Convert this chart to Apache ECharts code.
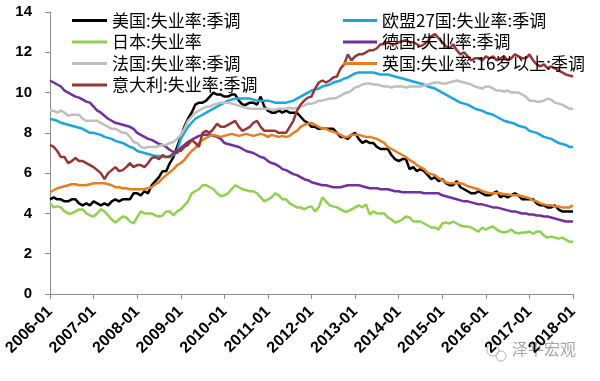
<!DOCTYPE html>
<html><head><meta charset="utf-8">
<script src="https://cdn.jsdelivr.net/npm/echarts@6/dist/echarts.min.js"></script>
<style>html,body{margin:0;padding:0;background:#fff}#c{width:600px;height:381px}</style>
</head><body><div id="c"></div>
<script>
// Categories: monthly 2006-01 .. 2018-01
const categories = [];
for (let y = 2006; y <= 2017; y++) for (let m = 1; m <= 12; m++) categories.push(y + '-' + (m < 10 ? '0' + m : m));
categories.push('2018-01');

const yTicks = [0, 2, 4, 6, 8, 10, 12, 14];

const nameUS = '美国:失业率:季调';
const nameEU = '欧盟27国:失业率:季调';
const nameJP = '日本:失业率';
const nameDE = '德国:失业率:季调';
const nameFR = '法国:失业率:季调';
const nameUK = '英国:失业率:16岁以上:季调';
const nameIT = '意大利:失业率:季调';

const usData = [
4.7,4.8,4.7,4.7,4.6,4.6,4.7,4.7,4.5,4.4,4.5,4.4,
4.6,4.5,4.4,4.5,4.4,4.6,4.7,4.6,4.7,4.7,4.7,5.0,
5.0,4.9,5.1,5.0,5.4,5.6,5.8,6.1,6.1,6.5,6.8,7.3,
7.8,8.3,8.7,9.0,9.4,9.5,9.5,9.6,9.8,10.0,9.9,9.9,
9.8,9.8,9.9,9.9,9.6,9.4,9.4,9.5,9.5,9.4,9.8,9.3,
9.1,9.0,9.0,9.1,9.0,9.1,9.0,9.0,9.0,8.8,8.6,8.5,
8.3,8.3,8.2,8.2,8.2,8.2,8.2,8.0,7.8,7.8,7.7,7.9,
8.0,7.7,7.5,7.6,7.5,7.5,7.3,7.2,7.2,7.2,6.9,6.7,
6.6,6.7,6.7,6.2,6.3,6.1,6.2,6.1,5.9,5.7,5.8,5.6,
5.7,5.5,5.4,5.4,5.6,5.3,5.2,5.1,5.0,5.0,5.1,5.0,
4.9,4.9,5.0,5.1,4.8,4.9,4.8,4.9,5.0,4.9,4.7,4.7,
4.7,4.7,4.5,4.4,4.4,4.3,4.3,4.4,4.2,4.1,4.1,4.1,
4.1];

const euData = [
8.7,8.65,8.6,8.5,8.45,8.4,8.35,8.3,8.25,8.2,8.1,8.0,
8.0,7.95,7.9,7.8,7.75,7.7,7.6,7.55,7.5,7.4,7.3,7.25,
7.1,7.05,7.0,6.95,6.9,6.85,6.85,6.8,6.8,6.85,6.9,7.1,
7.7,8.0,8.3,8.5,8.7,8.8,8.9,9.0,9.1,9.2,9.3,9.4,
9.5,9.6,9.65,9.7,9.7,9.7,9.7,9.7,9.65,9.6,9.6,9.6,
9.6,9.55,9.5,9.5,9.5,9.5,9.55,9.6,9.7,9.8,9.9,10.0,
10.1,10.15,10.2,10.3,10.35,10.4,10.5,10.55,10.6,10.7,10.75,10.85,
10.95,11.0,11.0,11.0,11.0,11.0,10.95,10.9,10.9,10.9,10.85,10.8,
10.75,10.7,10.65,10.6,10.55,10.5,10.45,10.4,10.3,10.25,10.2,10.1,
10.0,9.9,9.8,9.7,9.6,9.5,9.45,9.4,9.3,9.2,9.15,9.1,
9.0,8.95,8.9,8.8,8.7,8.6,8.55,8.5,8.45,8.35,8.3,8.25,
8.1,8.05,8.0,7.9,7.8,7.75,7.7,7.6,7.5,7.45,7.4,7.3,
7.3];

const jpData = [
4.5,4.3,4.35,4.3,4.1,4.0,4.0,4.1,4.2,4.2,4.0,3.9,
3.85,4.0,4.2,4.1,3.9,3.7,3.55,3.7,3.85,3.8,3.6,3.5,
3.8,4.1,4.0,4.0,4.0,3.9,3.85,3.9,4.1,4.1,3.9,4.1,
4.2,4.4,4.6,5.0,5.1,5.2,5.4,5.4,5.3,5.2,5.0,4.85,
4.9,5.0,5.2,5.4,5.3,5.2,5.15,5.1,5.1,5.0,4.8,4.6,
4.7,4.8,5.0,4.9,4.7,4.7,4.5,4.4,4.3,4.3,4.2,4.3,
4.35,4.1,4.3,4.8,4.6,4.4,4.35,4.3,4.2,4.1,4.1,4.2,
4.3,4.4,4.3,4.45,3.95,4.1,4.0,4.0,4.0,3.8,3.7,3.55,
3.6,3.7,3.85,3.8,3.6,3.6,3.6,3.5,3.4,3.3,3.3,3.2,
3.5,3.55,3.5,3.6,3.5,3.4,3.35,3.35,3.3,3.2,3.1,3.3,
3.2,3.3,3.35,3.2,3.1,3.05,3.1,3.2,3.05,3.0,3.05,3.05,
3.1,3.0,3.1,3.1,2.9,2.8,2.85,2.8,2.75,2.8,2.7,2.6,
2.6];

const deData = [
10.6,10.5,10.4,10.3,10.1,10.0,9.9,9.8,9.75,9.65,9.55,9.5,
9.3,9.1,9.0,8.85,8.7,8.6,8.5,8.45,8.4,8.35,8.3,8.2,
8.0,7.9,7.8,7.7,7.65,7.55,7.45,7.4,7.3,7.15,7.05,7.0,
7.25,7.4,7.55,7.65,7.75,7.85,7.9,7.9,7.9,7.85,7.8,7.7,
7.5,7.45,7.4,7.35,7.3,7.2,7.1,7.05,7.0,6.9,6.8,6.75,
6.6,6.5,6.45,6.35,6.2,6.15,6.05,5.95,5.9,5.8,5.7,5.65,
5.55,5.5,5.45,5.4,5.4,5.35,5.3,5.3,5.3,5.35,5.4,5.4,
5.4,5.4,5.35,5.3,5.25,5.25,5.25,5.2,5.2,5.2,5.15,5.1,
5.1,5.05,5.05,5.05,5.05,5.05,5.05,5.0,5.0,5.0,5.0,5.0,
4.9,4.85,4.8,4.75,4.7,4.65,4.6,4.6,4.55,4.5,4.45,4.45,
4.4,4.35,4.3,4.3,4.25,4.2,4.15,4.1,4.1,4.05,4.0,4.0,
3.95,3.95,3.9,3.9,3.85,3.85,3.8,3.75,3.7,3.65,3.6,3.6,
3.6];

const frData = [
9.1,9.1,9.0,9.1,9.0,8.85,8.9,8.9,8.9,8.7,8.6,8.6,
8.6,8.6,8.5,8.4,8.3,8.2,8.2,8.1,8.0,8.0,7.8,7.55,
7.5,7.3,7.25,7.3,7.3,7.3,7.35,7.4,7.4,7.5,7.55,7.7,
7.9,8.2,8.6,8.8,9.0,9.1,9.2,9.3,9.3,9.4,9.45,9.5,
9.5,9.5,9.45,9.4,9.35,9.3,9.25,9.2,9.2,9.2,9.2,9.2,
9.2,9.15,9.15,9.2,9.2,9.2,9.25,9.2,9.25,9.3,9.35,9.45,
9.45,9.5,9.6,9.6,9.65,9.7,9.7,9.75,9.85,9.95,10.0,10.1,
10.25,10.3,10.4,10.45,10.45,10.4,10.4,10.35,10.3,10.3,10.25,10.3,
10.3,10.3,10.25,10.3,10.3,10.3,10.3,10.35,10.4,10.45,10.5,10.5,
10.45,10.45,10.5,10.55,10.6,10.55,10.5,10.45,10.4,10.3,10.25,10.2,
10.3,10.3,10.2,10.1,10.1,10.05,10.1,10.0,10.0,10.0,9.9,9.8,
9.6,9.6,9.55,9.55,9.6,9.7,9.65,9.5,9.45,9.4,9.3,9.2,
9.2];

const ukData = [
5.05,5.15,5.25,5.3,5.35,5.4,5.45,5.45,5.4,5.4,5.4,5.45,
5.5,5.5,5.5,5.5,5.45,5.4,5.3,5.3,5.25,5.25,5.2,5.2,
5.2,5.2,5.2,5.25,5.3,5.45,5.55,5.75,5.9,6.05,6.2,6.4,
6.5,6.65,6.9,7.1,7.25,7.5,7.65,7.75,7.85,7.9,7.85,7.8,
7.85,7.9,7.95,7.9,7.85,7.9,7.95,7.9,7.85,7.9,7.95,7.9,
7.8,7.9,7.85,7.8,7.85,7.8,7.85,8.0,8.1,8.3,8.4,8.45,
8.5,8.4,8.3,8.2,8.2,8.1,8.05,8.0,7.9,7.8,7.8,7.9,
7.9,7.9,7.85,7.8,7.8,7.75,7.7,7.6,7.5,7.3,7.2,7.1,
7.0,6.9,6.8,6.65,6.55,6.4,6.3,6.2,6.0,5.95,5.9,5.75,
5.65,5.55,5.5,5.5,5.5,5.5,5.45,5.35,5.3,5.25,5.2,5.1,
5.05,5.0,5.0,5.0,5.0,4.95,4.95,4.9,4.9,4.9,4.85,4.8,
4.75,4.65,4.6,4.5,4.45,4.4,4.4,4.35,4.35,4.3,4.3,4.3,
4.4];

const itData = [
7.4,7.3,7.1,6.8,6.8,6.5,6.6,6.75,6.6,6.6,6.5,6.4,
6.3,6.15,6.0,5.7,6.0,6.15,6.3,6.1,6.15,6.3,6.5,6.3,
6.4,6.4,6.3,6.5,6.75,6.8,6.7,6.9,6.8,6.8,7.0,7.15,
7.1,7.3,7.4,7.65,7.5,7.3,8.0,8.1,8.0,8.2,8.45,8.3,
8.3,8.4,8.5,8.6,8.3,8.1,8.2,8.3,8.5,8.6,8.3,8.1,
8.1,8.1,8.1,8.0,8.0,8.0,8.3,8.6,9.1,9.4,9.6,9.75,
9.8,10.2,10.5,10.6,10.5,10.6,10.75,10.8,11.2,11.4,11.9,11.6,
11.8,11.9,11.9,12.0,12.1,12.1,12.2,12.4,12.4,12.5,12.4,12.4,
12.5,12.55,12.6,12.5,12.5,12.4,12.3,12.4,12.55,12.8,12.9,12.7,
12.5,12.3,12.2,12.4,12.1,11.9,12.0,11.8,11.6,11.7,11.7,11.6,
11.8,11.7,11.8,11.6,11.7,11.8,11.6,11.7,11.9,11.8,11.7,11.7,
11.9,11.6,11.4,11.3,11.4,11.2,11.3,11.2,11.1,11.0,10.9,10.85,
10.8];

const colors = {
  us: '#000000', eu: '#1CA6DC', jp: '#92D050', de: '#7030A0',
  fr: '#BFBFBF', uk: '#E67E22', it: '#953735'
};

function mk(name, data, color) {
  return {
    name: name, type: 'line', data: data, symbol: 'none', showSymbol: false,
    lineStyle: { width: 2.5, color: color }, itemStyle: { color: color },
    animation: false
  };
}

const chart = echarts.init(document.getElementById('c'), null, { renderer: 'canvas' });
const legendText = { fontSize: 17, color: '#000', fontFamily: 'Noto Sans CJK SC', lineHeight: 17 };
chart.setOption({
  backgroundColor: '#fff',
  animation: false,
  grid: { left: 50, right: 27, top: 12, bottom: 87 },
  legend: [
    { data: [nameUS, nameJP, nameFR, nameIT], orient: 'vertical', left: 67, top: 7,
      icon: 'rect', itemWidth: 35, itemHeight: 3, itemGap: 4.5, textStyle: legendText },
    { data: [nameEU, nameDE, nameUK], orient: 'vertical', left: 338, top: 7,
      icon: 'rect', itemWidth: 34, itemHeight: 3, itemGap: 4.5, textStyle: legendText }
  ],
  xAxis: {
    type: 'category', data: categories, boundaryGap: false,
    axisLine: { lineStyle: { color: '#8c8c8c', width: 1 } },
    axisTick: { show: true, interval: 11, length: 5, lineStyle: { color: '#8c8c8c' } },
    axisLabel: { interval: 11, rotate: 45, margin: 15, fontSize: 16, fontWeight: 'bold',
      color: '#000', fontFamily: 'Liberation Sans' }
  },
  yAxis: {
    type: 'value', min: yTicks[0], max: yTicks[yTicks.length - 1], interval: 2,
    splitLine: { show: false },
    axisLine: { show: true, lineStyle: { color: '#8c8c8c', width: 1 } },
    axisTick: { show: true, length: 5, lineStyle: { color: '#8c8c8c' } },
    axisLabel: { margin: 18, fontSize: 15, fontWeight: 'bold', color: '#000', fontFamily: 'Liberation Sans' }
  },
  graphic: [
    { type: 'circle', shape: { cx: 493, cy: 350, r: 6 }, style: { fill: 'none', stroke: '#b5b5b5', lineWidth: 1 } },
    { type: 'circle', shape: { cx: 501, cy: 356, r: 5 }, style: { fill: 'none', stroke: '#b5b5b5', lineWidth: 1 } },
    { type: 'text', left: 512, top: 341, style: { text: '泽平宏观', fontSize: 16, fill: '#a6a6a6', fontFamily: 'Noto Sans CJK SC' } }
  ],
  series: [
    mk(nameUS, usData, colors.us),
    mk(nameEU, euData, colors.eu),
    mk(nameJP, jpData, colors.jp),
    mk(nameDE, deData, colors.de),
    mk(nameFR, frData, colors.fr),
    mk(nameUK, ukData, colors.uk),
    mk(nameIT, itData, colors.it)
  ]
});
</script>
</body></html>
